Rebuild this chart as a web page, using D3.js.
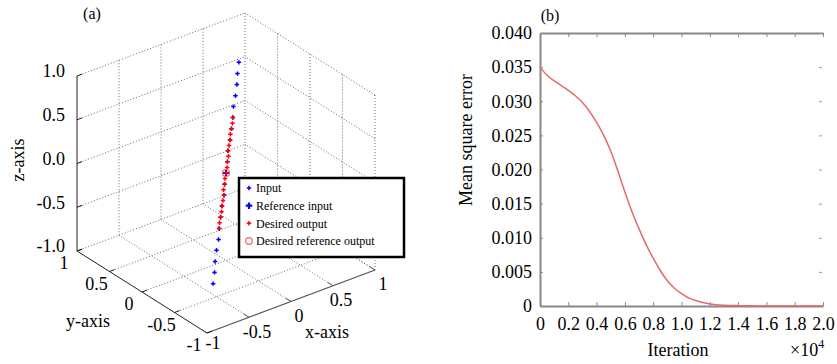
<!DOCTYPE html>
<html><head><meta charset="utf-8">
<script src="https://cdn.jsdelivr.net/npm/d3@7"></script>
<style>
body{margin:0;background:#fff;}
text{font-family:"Liberation Serif","Times New Roman",serif;fill:#000;}
</style>
</head><body>
<svg id="c" width="837" height="364"></svg>
<script>
// ================= Panel (a) data =================
const inputZ = [1.0,0.9,0.8,0.7,0.6,0.5,0.4,0.3,0.2,0.1,0.0,-0.1,-0.2,-0.3,-0.4,-0.5,-0.6,-0.7,-0.8,-0.9,-1.0];
const inputX = [0.37,0.33,0.30,0.26,0.22,0.19,0.15,0.11,0.07,0.04,0.0,-0.04,-0.07,-0.11,-0.15,-0.19,-0.22,-0.26,-0.30,-0.33,-0.37];
const inputY = [0.28,0.25,0.22,0.19,0.17,0.14,0.11,0.08,0.06,0.03,0.0,-0.03,-0.06,-0.08,-0.11,-0.14,-0.17,-0.19,-0.22,-0.25,-0.28];
const outZ = [0.5,0.45,0.4,0.35,0.3,0.25,0.2,0.15,0.1,0.05,0.0,-0.05,-0.1,-0.15,-0.2,-0.25,-0.3,-0.35,-0.4,-0.45,-0.5];
const outX = [0.19,0.17,0.15,0.13,0.11,0.09,0.07,0.06,0.04,0.02,0.0,-0.02,-0.04,-0.06,-0.07,-0.09,-0.11,-0.13,-0.15,-0.17,-0.19];
const outY = [0.14,0.12,0.11,0.10,0.08,0.07,0.06,0.04,0.03,0.01,0.0,-0.01,-0.03,-0.04,-0.06,-0.07,-0.08,-0.10,-0.11,-0.12,-0.14];
const refInput = [0, 0, 0];
const refOutput = [0, 0, 0];
const cubeTicks = [-1, -0.5, 0, 0.5, 1];
const zTickLabels = ["-1.0", "-0.5", "0.0", "0.5", "1.0"];
const xyTickLabels = ["-1", "-0.5", "0", "0.5", "1"];
const legendLabels = ["Input", "Reference input", "Desired output", "Desired reference output"];

// ================= Panel (b) data =================
const iterations = [0,0.05,0.1,0.15,0.2,0.25,0.3,0.35,0.4,0.45,0.5,0.55,0.6,0.65,0.7,0.75,0.8,0.85,0.9,0.95,1.0,1.05,1.1,1.15,1.2,1.3,1.4,1.5,1.6,1.8,2.0];
const mse = [0.0350,0.0338,0.0330,0.0323,0.0316,0.0308,0.0298,0.0285,0.0269,0.0250,0.0227,0.0198,0.0167,0.0138,0.0113,0.0090,0.0070,0.0052,0.0037,0.0026,0.0018,0.0012,0.0008,0.0005,0.0003,0.00012,0.00005,0.00002,0.00001,0,0];
const mseTicks = [0,0.005,0.010,0.015,0.020,0.025,0.030,0.035,0.040];
const mseTickLabels = ["0","0.005","0.010","0.015","0.020","0.025","0.030","0.035","0.040"];
const iterTicks = [0,0.2,0.4,0.6,0.8,1.0,1.2,1.4,1.6,1.8,2.0];
const iterTickLabels = ["0","0.2","0.4","0.6","0.8","1.0","1.2","1.4","1.6","1.8","2.0"];

const svg = d3.select("#c");

// ================= Panel (a) =================
const sxX = d3.scaleLinear().domain([-1,1]).range([142,310]);
const syX = d3.scaleLinear().domain([-1,1]).range([65,-65]);
const sxY = d3.scaleLinear().domain([-1,1]).range([31.5,-31.5]);
const syY = d3.scaleLinear().domain([-1,1]).range([41,-41]);
const szY = d3.scaleLinear().domain([-1,1]).range([260.5,85.5]);
const P = (x,y,z) => [sxX(x)+syX(y), sxY(x)+syY(y)+szY(z)];

const ga = svg.append("g");
const grid = ga.append("g").attr("stroke","#6a6a6a").attr("stroke-width",1)
  .attr("stroke-dasharray","1,2").attr("fill","none");
const seg = (g,a,b) => g.append("line").attr("x1",a[0]).attr("y1",a[1]).attr("x2",b[0]).attr("y2",b[1]);

cubeTicks.forEach(t => {
  if (t > -1) seg(grid, P(t,-1,-1), P(t,1,-1));
  if (t > -1 && t < 1) seg(grid, P(-1,t,-1), P(1,t,-1));
});
cubeTicks.forEach(t => {
  seg(grid, P(-1,1,t), P(1,1,t));
  if (t > -1) seg(grid, P(t,1,-1), P(t,1,1));
});
cubeTicks.forEach(t => {
  seg(grid, P(1,-1,t), P(1,1,t));
  if (t < 1) seg(grid, P(1,t,-1), P(1,t,1));
});

const ax = ga.append("g").attr("fill","none");
seg(ax, P(-1,1,-1), P(-1,1,1)).attr("stroke","#222");
seg(ax, P(-1,1,-1), P(-1,-1,-1)).attr("stroke","#222");
seg(ax, P(-1,-1,-1), P(1,-1,-1)).attr("stroke","#555").attr("stroke-width",1.3);
cubeTicks.forEach(t => {
  seg(ax, P(-1,1,t), P(-0.94,1,t)).attr("stroke","#222");
  seg(ax, P(-1,t,-1), P(-0.94,t,-1)).attr("stroke","#222");
  seg(ax, P(t,-1,-1), P(t,-0.92,-1)).attr("stroke","#555");
});

const fs = "18px";
cubeTicks.forEach((t,i) => {
  const pz = P(-1,1,t);
  ga.append("text").attr("x",pz[0]-12).attr("y",pz[1]-5).attr("dy","0.35em")
    .attr("text-anchor","end").style("font-size",fs).text(zTickLabels[i]);
  const py = P(-1,t,-1);
  ga.append("text").attr("x",py[0]-13).attr("y",py[1]+12).attr("dy","0.35em")
    .attr("text-anchor","middle").style("font-size",fs).text(xyTickLabels[i]);
  const px = P(t,-1,-1);
  ga.append("text").attr("x",px[0]+(i===0?6:8)).attr("y",px[1]+(i===0?10:14)).attr("dy","0.35em")
    .attr("text-anchor","middle").style("font-size",fs).text(xyTickLabels[i]);
});
ga.append("text").attr("x",327).attr("y",338).attr("text-anchor","middle").style("font-size",fs).text("x-axis");
ga.append("text").attr("x",88).attr("y",327).attr("text-anchor","middle").style("font-size",fs).text("y-axis");
ga.append("text").attr("transform","translate(24,160) rotate(-90)").attr("text-anchor","middle").style("font-size",fs).text("z-axis");
ga.append("text").attr("x",92).attr("y",19).attr("text-anchor","middle").style("font-size","16px").text("(a)");

const dot = d3.symbol().type(d3.symbolCross).size(11);
const bigStar = d3.symbol().type(d3.symbolCross).size(24);
const inputPts = inputZ.map((z,i) => P(inputX[i], inputY[i], z));
const outPts = outZ.map((z,i) => P(outX[i], outY[i], z));
ga.append("g").selectAll("path").data(inputPts).join("path")
  .attr("transform", d => `translate(${d[0]},${d[1]})`).attr("d", dot).attr("fill","#0000ff");
const ri = P(...refInput);
ga.append("path").attr("transform",`translate(${ri[0]},${ri[1]})`).attr("d",bigStar).attr("fill","#0000ff");
ga.append("g").selectAll("path").data(outPts).join("path")
  .attr("transform", d => `translate(${d[0]},${d[1]})`).attr("d", dot).attr("fill","#ff0000");
const ro = P(...refOutput);
ga.append("circle").attr("cx",ro[0]).attr("cy",ro[1]).attr("r",3.5)
  .attr("fill","none").attr("stroke","#f06a6a").attr("stroke-width",1.2);

const lg = ga.append("g");
lg.append("rect").attr("x",239).attr("y",178).attr("width",165).attr("height",79)
  .attr("fill","#fff").attr("stroke","#000").attr("stroke-width",2.5);
const legY = d3.scalePoint().domain(legendLabels).range([188,241]);
legendLabels.forEach((lab,i) => {
  const y = legY(lab);
  if (i === 0) lg.append("path").attr("transform",`translate(249,${y})`).attr("d",dot).attr("fill","#0000ff");
  if (i === 1) lg.append("path").attr("transform",`translate(249,${y})`).attr("d",bigStar).attr("fill","#0000ff");
  if (i === 2) lg.append("path").attr("transform",`translate(249,${y})`).attr("d",dot).attr("fill","#ff0000");
  if (i === 3) lg.append("circle").attr("cx",249).attr("cy",y).attr("r",3.3).attr("fill","none").attr("stroke","#f06a6a").attr("stroke-width",1.2);
  lg.append("text").attr("x",256).attr("y",y).attr("dy","0.35em").style("font-size","12px").text(lab);
});

// ================= Panel (b) =================
const xS = d3.scaleLinear().domain([0,2]).range([540,823]);
const yS = d3.scaleLinear().domain([0,0.04]).range([306,33]);
const gb = svg.append("g");
const styleAxis = g => {
  g.select(".domain").attr("stroke","#888").attr("stroke-width",2);
  g.selectAll(".tick line").attr("stroke","#888");
  g.selectAll(".tick text").style("font-size","18px").attr("fill","#000")
    .style("font-family","'Liberation Serif','Times New Roman',serif");
};
gb.append("g").attr("transform","translate(540,0)")
  .call(d3.axisLeft(yS).tickValues(mseTicks).tickFormat((d,i)=>mseTickLabels[i]).tickSizeInner(-3).tickSizeOuter(0).tickPadding(8))
  .call(styleAxis);
gb.append("g").attr("transform","translate(0,306)")
  .call(d3.axisBottom(xS).tickValues(iterTicks).tickFormat((d,i)=>iterTickLabels[i]).tickSizeInner(-4).tickSizeOuter(0).tickPadding(11))
  .call(styleAxis);
gb.append("g").attr("transform","translate(0,33)")
  .call(d3.axisTop(xS).tickValues(iterTicks).tickFormat("").tickSizeInner(-4).tickSizeOuter(0))
  .call(styleAxis);
gb.append("g").attr("transform","translate(822,0)")
  .call(d3.axisRight(yS).tickValues(mseTicks).tickFormat("").tickSizeInner(-3).tickSizeOuter(0))
  .call(g => { g.select(".domain").remove(); g.selectAll(".tick line").attr("stroke","#999"); });

const line = d3.line().x((d,i)=>xS(iterations[i])).y(d=>yS(d)).curve(d3.curveCatmullRom.alpha(0.5));
gb.append("path").datum(mse).attr("d",line).attr("fill","none")
  .attr("stroke","#e46a6a").attr("stroke-width",1.5);

gb.append("text").attr("transform","translate(472,140) rotate(-90)").attr("text-anchor","middle")
  .style("font-size","18px").text("Mean square error");
gb.append("text").attr("x",678).attr("y",356).attr("text-anchor","middle").style("font-size","18px").text("Iteration");
const ex = gb.append("text").attr("x",790).attr("y",356).style("font-size","18px");
ex.append("tspan").text("\u00d710");
ex.append("tspan").attr("dy",-8).style("font-size","12px").text("4");
gb.append("text").attr("x",550).attr("y",21).attr("text-anchor","middle").style("font-size","16px").text("(b)");
</script>
</body></html>
